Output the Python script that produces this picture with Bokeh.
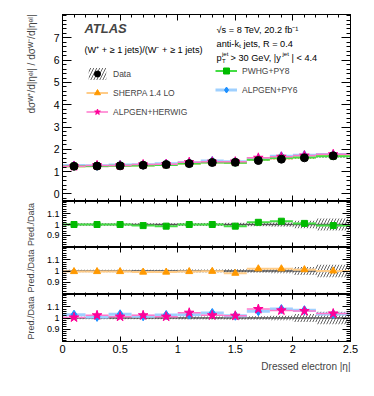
import numpy as np
from bokeh.plotting import figure
from bokeh.models import (Range1d, Legend, LegendItem, Label, Title, LinearAxis,
                          FixedTicker, NumeralTickFormatter)
from bokeh.layouts import column
from bokeh.embed import file_html
from bokeh.resources import INLINE

# ---------------- data ----------------
eta_edges = [0.0, 0.2, 0.4, 0.6, 0.8, 1.0, 1.2, 1.4, 1.6, 1.8, 2.0, 2.2, 2.5]
eta_centers = [0.1, 0.3, 0.5, 0.7, 0.9, 1.1, 1.3, 1.5, 1.7, 1.9, 2.1, 2.35]
data_ratio = [1.24, 1.25, 1.26, 1.29, 1.32, 1.36, 1.41, 1.42, 1.50, 1.56, 1.62, 1.71]
data_rel_unc = [0.012, 0.012, 0.012, 0.012, 0.012, 0.013, 0.013, 0.015, 0.016, 0.02, 0.035, 0.055]
pwhg_py8_over_data = [1.00, 1.00, 1.00, 0.99, 0.985, 1.00, 1.00, 0.985, 1.02, 1.03, 1.01, 0.99]
sherpa_over_data = [0.995, 0.995, 0.995, 0.99, 0.99, 0.995, 0.997, 0.98, 1.02, 1.02, 1.012, 1.0]
alpgen_py6_over_data = [1.03, 1.01, 1.033, 1.015, 1.027, 1.03, 1.045, 1.02, 1.06, 1.08, 1.07, 1.035]
alpgen_herwig_over_data = [1.005, 1.024, 1.012, 1.024, 1.012, 1.047, 1.024, 1.02, 1.08, 1.068, 1.062, 1.04]

x_major_ticks = [0.0, 0.5, 1.0, 1.5, 2.0, 2.5]
main_y_major_ticks = [0, 1, 2, 3, 4, 5, 6, 7]
ratio_y_major_ticks = [0.9, 1.0, 1.1]

FONT = "Liberation Sans"
FW = 288
lo = eta_edges[:-1]
hi = eta_edges[1:]
data = np.array(data_ratio)
unc = np.array(data_rel_unc)

models = [
    # name, ratio list, line colour, line width, marker, marker colour, size
    ("ALPGEN+PY6", alpgen_py6_over_data, "#9fd0ff", 3.0, "diamond", "#1e90ff", 9),
    ("SHERPA 1.4 LO", sherpa_over_data, "#ffcc88", 2.0, "triangle", "#ff9900", 7),
    ("PWHG+PY8", pwhg_py8_over_data, "#44dd44", 2.0, "square", "#00bb00", 6),
    ("ALPGEN+HERWIG", alpgen_herwig_over_data, "#ff77cc", 1.5, "star", "#ff0099", 10),
]

x_minor = [round(0.1 * i, 2) for i in range(0, 26)]
main_y_minor = [round(0.2 * i, 2) for i in range(-1, 41)]
ratio_y_minor = [round(0.78 + 0.02 * i, 2) for i in range(0, 23)]


def make_fig(fh, yr, top, bottom):
    p = figure(frame_width=FW, frame_height=fh, x_range=Range1d(0, 2.5), y_range=Range1d(*yr),
               output_backend="svg", toolbar_location=None, title=None,
               x_axis_location=None, y_axis_location=None,
               min_border_left=62, min_border_right=16,
               min_border_top=top, min_border_bottom=bottom)
    for g in p.grid:
        g.visible = False
    p.outline_line_color = "black"
    p.outline_line_width = 1
    p.background_fill_color = "white"
    p.border_fill_color = "white"
    return p


def style_axis(ax, major, minor, labels, size="11px"):
    ax.major_tick_in = int(major)
    ax.major_tick_out = 0
    ax.minor_tick_in = int(minor)
    ax.minor_tick_out = 0
    ax.axis_line_color = "black"
    ax.major_tick_line_color = "black"
    ax.minor_tick_line_color = "black"
    if labels:
        ax.major_label_text_font = FONT
        ax.major_label_text_font_size = size
        ax.major_label_text_color = "black"
        ax.major_label_standoff = 3
        ax.formatter = NumeralTickFormatter(format="0.[0]")
    else:
        ax.major_label_text_font_size = "1px"
        ax.major_label_text_alpha = 0
        ax.major_label_standoff = 0


def add_axes(p, y_major, y_minor, xlen, ylen, x_labels, y_label_size, ylabel=None):
    for side in ("below", "above"):
        ax = LinearAxis(ticker=FixedTicker(ticks=x_major_ticks, minor_ticks=x_minor))
        style_axis(ax, xlen, xlen // 2, side == "below" and x_labels)
        p.add_layout(ax, side)
    for side in ("left", "right"):
        ax = LinearAxis(ticker=FixedTicker(ticks=y_major, minor_ticks=y_minor))
        style_axis(ax, ylen, ylen // 2, side == "left", y_label_size)
        if side == "left" and ylabel:
            ax.axis_label = ylabel
            ax.axis_label_text_font = FONT
            ax.axis_label_text_font_size = "9px"
            ax.axis_label_text_font_style = "normal"
            ax.axis_label_standoff = 8
        p.add_layout(ax, side)


# ---------------- main panel ----------------
p0 = make_fig(187, (-0.34, 8.05), 14, 0)
add_axes(p0, main_y_major_ticks, main_y_minor, 6, 9, False, "10.5px")
p0.add_layout(Title(text="dσᵂ⁺/d|ηᵉˡ| / dσᵂ⁻/d|ηᵉˡ|", align="right", text_font=FONT,
                    text_font_size="10px", text_font_style="normal", standoff=27), "left")

band0 = p0.quad(left=lo, right=hi, bottom=data * (1 - unc), top=data * (1 + unc),
                fill_color="white", fill_alpha=0, line_alpha=0,
                hatch_pattern="/", hatch_color="#666666", hatch_scale=6, hatch_weight=1)
items = {}
seg_r = {}
for name, r, lc, lw, mk, mc, ms in models:
    vals = data * np.array(r)
    seg_r[name] = p0.segment(x0=lo, y0=vals, x1=hi, y1=vals, line_color=lc, line_width=lw)
for name, r, lc, lw, mk, mc, ms in models:
    vals = data * np.array(r)
    sc = p0.scatter(eta_centers, vals, marker=mk, size=ms, fill_color=mc, line_color=mc)
    items[name] = [seg_r[name], sc]
data_sc = p0.scatter(eta_centers, data_ratio, marker="circle", size=8, fill_color="black",
                     line_color="black")

leg_kw = dict(border_line_alpha=0, background_fill_alpha=0, padding=0, margin=0, spacing=4,
              glyph_width=22, glyph_height=15, label_height=15, label_standoff=5,
              label_text_font=FONT, label_text_font_size="8.5px")
leg_left = Legend(items=[LegendItem(label="Data", renderers=[band0, data_sc]),
                         LegendItem(label="SHERPA 1.4 LO", renderers=items["SHERPA 1.4 LO"]),
                         LegendItem(label="ALPGEN+HERWIG", renderers=items["ALPGEN+HERWIG"])],
                  location=(24, 82), **leg_kw)
leg_right = Legend(items=[LegendItem(label="PWHG+PY8", renderers=items["PWHG+PY8"]),
                          LegendItem(label="ALPGEN+PY6", renderers=items["ALPGEN+PY6"])],
                   location=(153, 104), **leg_kw)
p0.add_layout(leg_left)
p0.add_layout(leg_right)

txt = dict(text_font=FONT, text_font_size="9.2px", text_baseline="middle", text_color="black")
p0.add_layout(Label(x=0.19, y=7.42, text="ATLAS", text_font=FONT, text_font_size="13px",
                    text_font_style="bold italic", text_baseline="middle"))
p0.add_layout(Label(x=0.19, y=6.44, text="(W⁺ + ≥ 1 jets)/(W⁻ + ≥ 1 jets)", **txt))
p0.add_layout(Label(x=1.337, y=7.36, text="√s = 8 TeV, 20.2 fb⁻¹", **txt))
p0.add_layout(Label(x=1.337, y=6.71, text="anti-kₜ jets, R = 0.4", **txt))
p0.add_layout(Label(x=1.337, y=6.08, text="p", **txt))
small = dict(text_font=FONT, text_font_size="6px", text_baseline="middle", text_color="black")
p0.add_layout(Label(x=1.337, y=6.08, x_offset=5.5, y_offset=-3, text="T", **small))
p0.add_layout(Label(x=1.337, y=6.08, x_offset=5.5, y_offset=4, text="jet", **small))
p0.add_layout(Label(x=1.337, y=6.08, x_offset=14, text="> 30 GeV, |y", **txt))
p0.add_layout(Label(x=1.337, y=6.08, x_offset=66, y_offset=4, text="jet", **small))
p0.add_layout(Label(x=1.337, y=6.08, x_offset=75, text="| < 4.4", **txt))


# ---------------- ratio panels ----------------
def ratio_panel(fh, top, bottom, names, x_labels):
    p = make_fig(fh, (0.79, 1.21), top, bottom)
    add_axes(p, ratio_y_major_ticks, ratio_y_minor, 5, 8, x_labels, "9px", "Pred./Data")
    p.quad(left=lo, right=hi, bottom=1 - unc, top=1 + unc, fill_alpha=0, line_alpha=0,
           hatch_pattern="/", hatch_color="#666666", hatch_scale=6, hatch_weight=1)
    ones = np.ones(len(lo))
    p.segment(x0=lo, y0=ones, x1=hi, y1=ones, line_color="#555555", line_width=1.5)
    sel = [m for m in models if m[0] in names]
    for name, r, lc, lw, mk, mc, ms in sel:
        p.segment(x0=lo, y0=r, x1=hi, y1=r, line_color=lc, line_width=lw)
    for name, r, lc, lw, mk, mc, ms in sel:
        p.scatter(eta_centers, r, marker=mk, size=ms, fill_color=mc, line_color=mc)
    return p


p1 = ratio_panel(46, 0, 0, ["PWHG+PY8"], False)
p2 = ratio_panel(47, 0, 0, ["SHERPA 1.4 LO"], False)
p3 = ratio_panel(47, 0, 32, ["ALPGEN+PY6", "ALPGEN+HERWIG"], True)
p3.add_layout(Title(text="Dressed electron |η|", align="right", text_font=FONT,
                    text_font_size="10px", text_font_style="normal", standoff=6), "below")

layout = column(p0, p1, p2, p3, spacing=0)
open("out.html", "w").write(file_html(layout, INLINE))
